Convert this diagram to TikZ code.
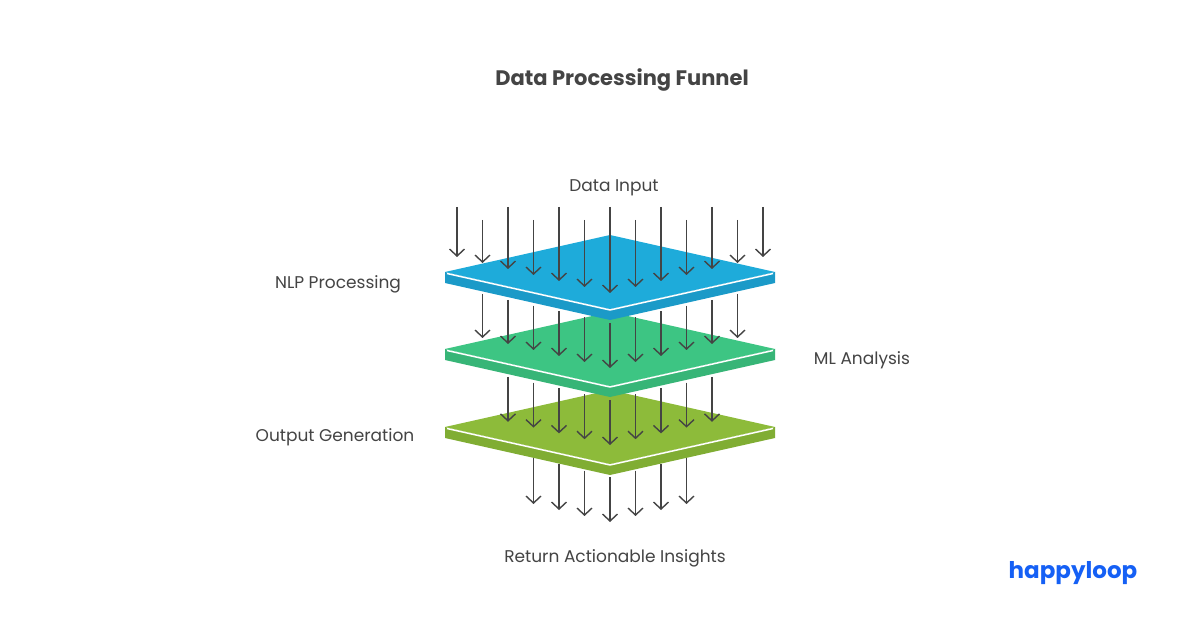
\documentclass[tikz,border=0pt]{standalone}
\usepackage{fontspec}
\setmainfont{Poppins}
\usetikzlibrary{arrows.meta}
\definecolor{txt}{HTML}{444444}
\definecolor{blueT}{HTML}{1EABDA}\definecolor{blueS}{HTML}{1B9AC8}
\definecolor{greenT}{HTML}{3DC583}\definecolor{greenS}{HTML}{37B577}
\definecolor{oliveT}{HTML}{8DBB3A}\definecolor{oliveS}{HTML}{80AD33}
\definecolor{logo}{HTML}{1560F5}
\tikzset{
  flow/.style={draw=txt,line width=1.4pt,-{Straight Barb[length=7pt,width=15pt,line width=1.4pt]}},
  lbl/.style={text=txt,font=\fontsize{17}{20}\selectfont,inner sep=0pt}
}
\newcommand{\layer}[3]{% corner y, top colour, side colour
  \fill[#3] (445,#1) -- (445,#1+11) -- (610,#1+48) -- (775,#1+11) -- (775,#1) -- (610,#1+37) -- cycle;
  \fill[#2] (610,#1-37) -- (775,#1) -- (610,#1+37) -- (445,#1) -- cycle;
  \draw[white,line width=1.5pt,line join=round] (447,#1+1.5) -- (610,#1+38) -- (773,#1+1.5);
}
\begin{document}
\begin{tikzpicture}[x=1pt,y=-1pt]
\useasboundingbox (0,0) rectangle (1200,628);
\fill[white] (0,0) rectangle (1200,628);
\node[text=txt,font=\bfseries\fontsize{21}{24}\selectfont] (title) at (622,80) {Data Processing Funnel};
\node[lbl] (in) at (614,188) {Data Input};
\node[lbl] (nlp) at (338,284) {NLP Processing};
\node[lbl] (ml) at (862,360) {ML Analysis};
\node[lbl] (out) at (335,437) {Output Generation};
\node[lbl] (ret) at (615,558) {Return Actionable Insights};
\node[text=logo,font=\bfseries\fontsize{23}{26}\selectfont,inner sep=0pt] (brand) at (1073,573) {happyloop};
\layer{427}{oliveT}{oliveS}
\layer{349}{greenT}{greenS}
\layer{272}{blueT}{blueS}
% top row
\foreach \i in {-6,...,6}{
  \pgfmathsetmacro{\x}{610+25.5*\i}
  \pgfmathsetmacro{\s}{mod(abs(\i),2)==0 ? 207 : 220}
  \pgfmathsetmacro{\e}{293-6*abs(\i)}
  \coordinate (a\i) at (\x,\s); \coordinate (b\i) at (\x,\e);
  \draw[flow] (a\i) -- (b\i);
}
\foreach \i in {-5,...,5}{
  \pgfmathsetmacro{\x}{610+25.5*\i}
  \pgfmathsetmacro{\s}{323-5.8*abs(\i)}
  \pgfmathsetmacro{\e}{368-6*abs(\i)}
  \coordinate (c\i) at (\x,\s); \coordinate (d\i) at (\x,\e);
  \draw[flow] (c\i) -- (d\i);
}
\foreach \i in {-4,...,4}{
  \pgfmathsetmacro{\x}{610+25.5*\i}
  \pgfmathsetmacro{\s}{400-5.8*abs(\i)}
  \pgfmathsetmacro{\e}{445-5.8*abs(\i)}
  \coordinate (e\i) at (\x,\s); \coordinate (f\i) at (\x,\e);
  \draw[flow] (e\i) -- (f\i);
}
\foreach \i in {-3,...,3}{
  \pgfmathsetmacro{\x}{610+25.5*\i}
  \pgfmathsetmacro{\s}{477-6.3*abs(\i)}
  \pgfmathsetmacro{\e}{522-6*abs(\i)}
  \coordinate (g\i) at (\x,\s); \coordinate (h\i) at (\x,\e);
  \draw[flow] (g\i) -- (h\i);
}
\end{tikzpicture}
\end{document}
